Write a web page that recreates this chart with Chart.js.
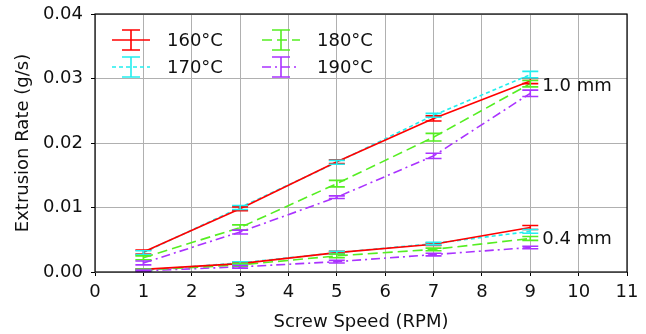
<!DOCTYPE html>
<html>
<head>
<meta charset="utf-8">
<script src="https://cdn.jsdelivr.net/npm/chart.js@4.4.1/dist/chart.umd.min.js"></script>
<style>
  html, body { margin: 0; padding: 0; background: #fff; }
  #wrap { width: 646px; height: 334px; }
</style>
</head>
<body>
<div id="wrap"><canvas id="extrusionChart" width="646" height="334"></canvas></div>
<script>
// Screw speeds (RPM)
const speeds = [1, 3, 5, 7, 9];
const tempLabels = ['160°C', '170°C', '180°C', '190°C'];
const xTicks = [0, 1, 2, 3, 4, 5, 6, 7, 8, 9, 10, 11];
const yTicks = [0, 0.01, 0.02, 0.03, 0.04];

// 1.0 mm nozzle (g/s)
const rate10mm160 = [0.0031, 0.0098, 0.0171, 0.0238, 0.0296];
const rate10mm170 = [0.0030, 0.0100, 0.0170, 0.0243, 0.0306];
const rate10mm180 = [0.0022, 0.0069, 0.0137, 0.0209, 0.0292];
const rate10mm190 = [0.0014, 0.0062, 0.0116, 0.0180, 0.0277];
const err10mm160 = [0.0003, 0.0003, 0.0003, 0.0004, 0.0004];
const err10mm170 = [0.0003, 0.0003, 0.0003, 0.0003, 0.0005];
const err10mm180 = [0.0003, 0.0004, 0.0005, 0.0006, 0.0005];
const err10mm190 = [0.0003, 0.0003, 0.0002, 0.0004, 0.0005];

// 0.4 mm nozzle (g/s)
const rate04mm160 = [0.0004, 0.0013, 0.0030, 0.0043, 0.0069];
const rate04mm170 = [0.0003, 0.0014, 0.0030, 0.0044, 0.0063];
const rate04mm180 = [0.0003, 0.0011, 0.0025, 0.0035, 0.0052];
const rate04mm190 = [0.0002, 0.0008, 0.0016, 0.0027, 0.0038];
const err04mm160 = [0.0001, 0.0002, 0.0002, 0.0002, 0.0003];
const err04mm170 = [0.0001, 0.0002, 0.0002, 0.0002, 0.0003];
const err04mm180 = [0.0001, 0.0002, 0.0003, 0.0002, 0.0003];
const err04mm190 = [0.0001, 0.0002, 0.0002, 0.0002, 0.0002];

const colors = ['#ff0000', '#22eeee', '#55ee22', '#aa33ff'];
const dashes = [[], [4, 3], [10, 5], [9, 4, 2, 4]];
const FONT = '"DejaVu Sans", sans-serif';

function makeSet(idx, values, errs) {
    return {
        label: tempLabels[idx],
        data: speeds.map((s, i) => ({ x: s, y: values[i] })),
        errors: errs,
        borderColor: colors[idx],
        backgroundColor: colors[idx],
        borderWidth: 1.6,
        borderDash: dashes[idx],
        pointRadius: 0,
        fill: false,
        tension: 0
    };
}

const datasets = [
    makeSet(0, rate10mm160, err10mm160),
    makeSet(0, rate04mm160, err04mm160),
    makeSet(1, rate10mm170, err10mm170),
    makeSet(1, rate04mm170, err04mm170),
    makeSet(2, rate10mm180, err10mm180),
    makeSet(2, rate04mm180, err04mm180),
    makeSet(3, rate10mm190, err10mm190),
    makeSet(3, rate04mm190, err04mm190)
];

// error bars with caps
const errorBars = {
    id: 'errorBars',
    afterDatasetsDraw(chart) {
        const ctx = chart.ctx;
        const xs = chart.scales.x, ys = chart.scales.y;
        ctx.save();
        chart.data.datasets.forEach(ds => {
            ctx.strokeStyle = ds.borderColor;
            ctx.lineWidth = 1.6;
            ctx.setLineDash([]);
            ds.data.forEach((p, i) => {
                const px = xs.getPixelForValue(p.x);
                const top = ys.getPixelForValue(p.y + ds.errors[i]);
                const bot = ys.getPixelForValue(p.y - ds.errors[i]);
                ctx.beginPath();
                ctx.moveTo(px, top); ctx.lineTo(px, bot);
                ctx.moveTo(px - 8, top); ctx.lineTo(px + 8, top);
                ctx.moveTo(px - 8, bot); ctx.lineTo(px + 8, bot);
                ctx.stroke();
            });
        });
        ctx.restore();
    }
};

// frame, legend and nozzle labels
const decorations = {
    id: 'decorations',
    afterDraw(chart) {
        const ctx = chart.ctx;
        const a = chart.chartArea;
        const xs = chart.scales.x, ys = chart.scales.y;
        ctx.save();
        ctx.strokeStyle = '#000';
        ctx.lineWidth = 1.2;
        ctx.setLineDash([]);
        ctx.strokeRect(a.left, a.top, a.right - a.left, a.bottom - a.top);

        ctx.font = '18px ' + FONT;
        ctx.fillStyle = '#111';
        ctx.textBaseline = 'middle';
        ctx.textAlign = 'left';
        tempLabels.forEach((lab, i) => {
            const col = Math.floor(i / 2), row = i % 2;
            const x0 = a.left + 17 + col * 150;
            const y0 = a.top + 26 + row * 27;
            ctx.strokeStyle = colors[i];
            ctx.lineWidth = 1.6;
            ctx.setLineDash(dashes[i]);
            ctx.beginPath();
            ctx.moveTo(x0, y0); ctx.lineTo(x0 + 38, y0);
            ctx.stroke();
            ctx.setLineDash([]);
            const cx = x0 + 19;
            ctx.beginPath();
            ctx.moveTo(cx, y0 - 10); ctx.lineTo(cx, y0 + 10);
            ctx.moveTo(cx - 9, y0 - 10); ctx.lineTo(cx + 9, y0 - 10);
            ctx.moveTo(cx - 9, y0 + 10); ctx.lineTo(cx + 9, y0 + 10);
            ctx.stroke();
            ctx.fillText(lab, x0 + 55, y0 + 1);
        });

        ctx.fillText('1.0 mm', xs.getPixelForValue(9.25), ys.getPixelForValue(0.0288));
        ctx.fillText('0.4 mm', xs.getPixelForValue(9.25), ys.getPixelForValue(0.0050));
        ctx.restore();
    }
};

const ctx = document.getElementById('extrusionChart').getContext('2d');
new Chart(ctx, {
    type: 'line',
    data: { datasets: datasets },
    options: {
        responsive: false,
        animation: false,
        layout: { padding: { top: 14, right: 19, left: 0, bottom: 0 } },
        plugins: {
            legend: { display: false },
            tooltip: { enabled: false }
        },
        scales: {
            x: {
                type: 'linear',
                min: 0,
                max: 11,
                afterBuildTicks: s => { s.ticks = xTicks.map(v => ({ value: v })); },
                afterFit: s => { s.height = 62; s.paddingLeft = 0; s.paddingRight = 0; },
                ticks: { color: '#111', font: { family: FONT, size: 18 }, padding: 6, maxRotation: 0 },
                grid: { color: '#b0b0b0', lineWidth: 1, tickColor: '#000', tickLength: 4 },
                border: { display: false },
                title: { display: true, text: 'Screw Speed (RPM)', color: '#111',
                         font: { family: FONT, size: 18 }, padding: { top: 1, bottom: 1 } }
            },
            y: {
                min: 0,
                max: 0.04,
                afterBuildTicks: s => { s.ticks = yTicks.map(v => ({ value: v })); },
                afterFit: s => { s.width = 95; s.paddingTop = 0; s.paddingBottom = 0; },
                ticks: { color: '#111', font: { family: FONT, size: 18 }, padding: 8,
                         callback: v => v.toFixed(2) },
                grid: { color: '#b0b0b0', lineWidth: 1, tickColor: '#000', tickLength: 4 },
                border: { display: false },
                title: { display: true, text: 'Extrusion Rate (g/s)', color: '#111',
                         font: { family: FONT, size: 18 }, padding: { top: 13, bottom: 1 } }
            }
        }
    },
    plugins: [errorBars, decorations]
});
</script>
</body>
</html>
